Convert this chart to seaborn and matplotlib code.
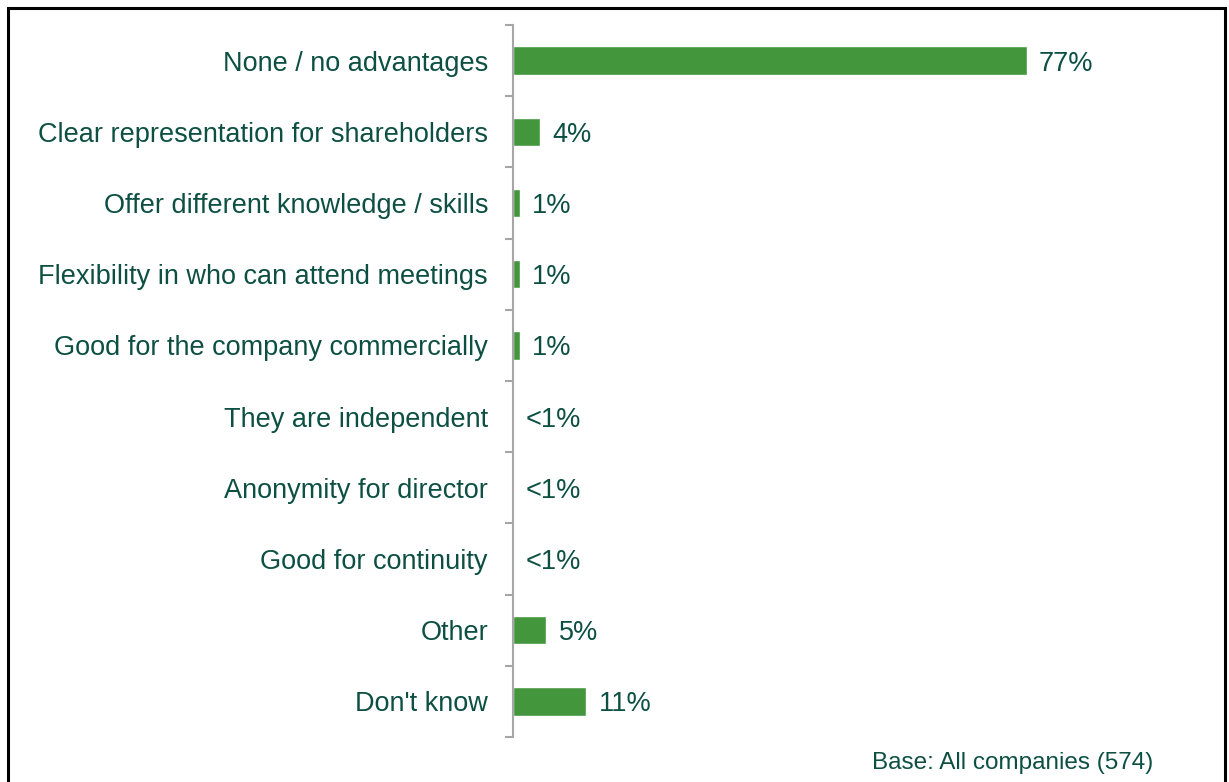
import matplotlib
matplotlib.use("Agg")
import matplotlib.pyplot as plt
import seaborn as sns
import pandas as pd
import numpy as np
from matplotlib.patches import Rectangle
from matplotlib.ticker import FixedLocator

categories = [
    "None / no advantages",
    "Clear representation for shareholders",
    "Offer different knowledge / skills",
    "Flexibility in who can attend meetings",
    "Good for the company commercially",
    "They are independent",
    "Anonymity for director",
    "Good for continuity",
    "Other",
    "Don't know",
]
values = [77, 4, 1, 1, 1, 0, 0, 0, 5, 11]
value_labels = ["77%", "4%", "1%", "1%", "1%", "<1%", "<1%", "<1%", "5%", "11%"]
base_note = "Base: All companies (574)"

TEXT = "#0d5043"
BAR = "#43963b"
SPINE = "#a6a6a6"
FS = 19.5

sns.set_theme(style="white")
plt.rcParams["font.family"] = ["Liberation Sans", "DejaVu Sans"]

W, H = 1229, 782
fig = plt.figure(figsize=(W / 100, H / 100), dpi=100)
ax = fig.add_axes([513 / W, (H - 737) / H, 667 / W, 712 / H])

df = pd.DataFrame({"category": categories, "value": values})
sns.barplot(data=df, x="value", y="category", orient="h", color=BAR,
            saturation=1, width=0.4, ax=ax)

ax.set_xlim(0, 100)
ax.set_ylim(len(categories) - 0.5, -0.5)
ax.set_xlabel("")
ax.set_ylabel("")
ax.set_xticks([])

for s in ["top", "right", "bottom"]:
    ax.spines[s].set_visible(False)
ax.spines["left"].set_color(SPINE)
ax.spines["left"].set_linewidth(1.5)

ax.tick_params(axis="y", which="major", length=0, pad=18, labelsize=FS,
               labelcolor=TEXT)
for t in ax.get_yticklabels():
    t.set_verticalalignment("center_baseline")
ax.yaxis.set_minor_locator(FixedLocator(np.arange(-0.5, len(categories), 1.0)))
ax.tick_params(axis="y", which="minor", length=6, width=1.5, color=SPINE,
               left=True)

for i, (v, lab) in enumerate(zip(values, value_labels)):
    ax.annotate(lab, xy=(v, i), xytext=(9, 0), textcoords="offset points",
                ha="left", va="center_baseline", fontsize=FS, color=TEXT)

fig.text(1153 / W, (H - 760) / H, base_note, ha="right", va="center_baseline",
         fontsize=17.5, color=TEXT)

fig.patches.append(Rectangle((8 / W, -0.05), (1225 - 8) / W, (H - 8) / H + 0.05,
                             transform=fig.transFigure, fill=False,
                             edgecolor="black", linewidth=2.2))

fig.savefig("out.png", dpi=100)
